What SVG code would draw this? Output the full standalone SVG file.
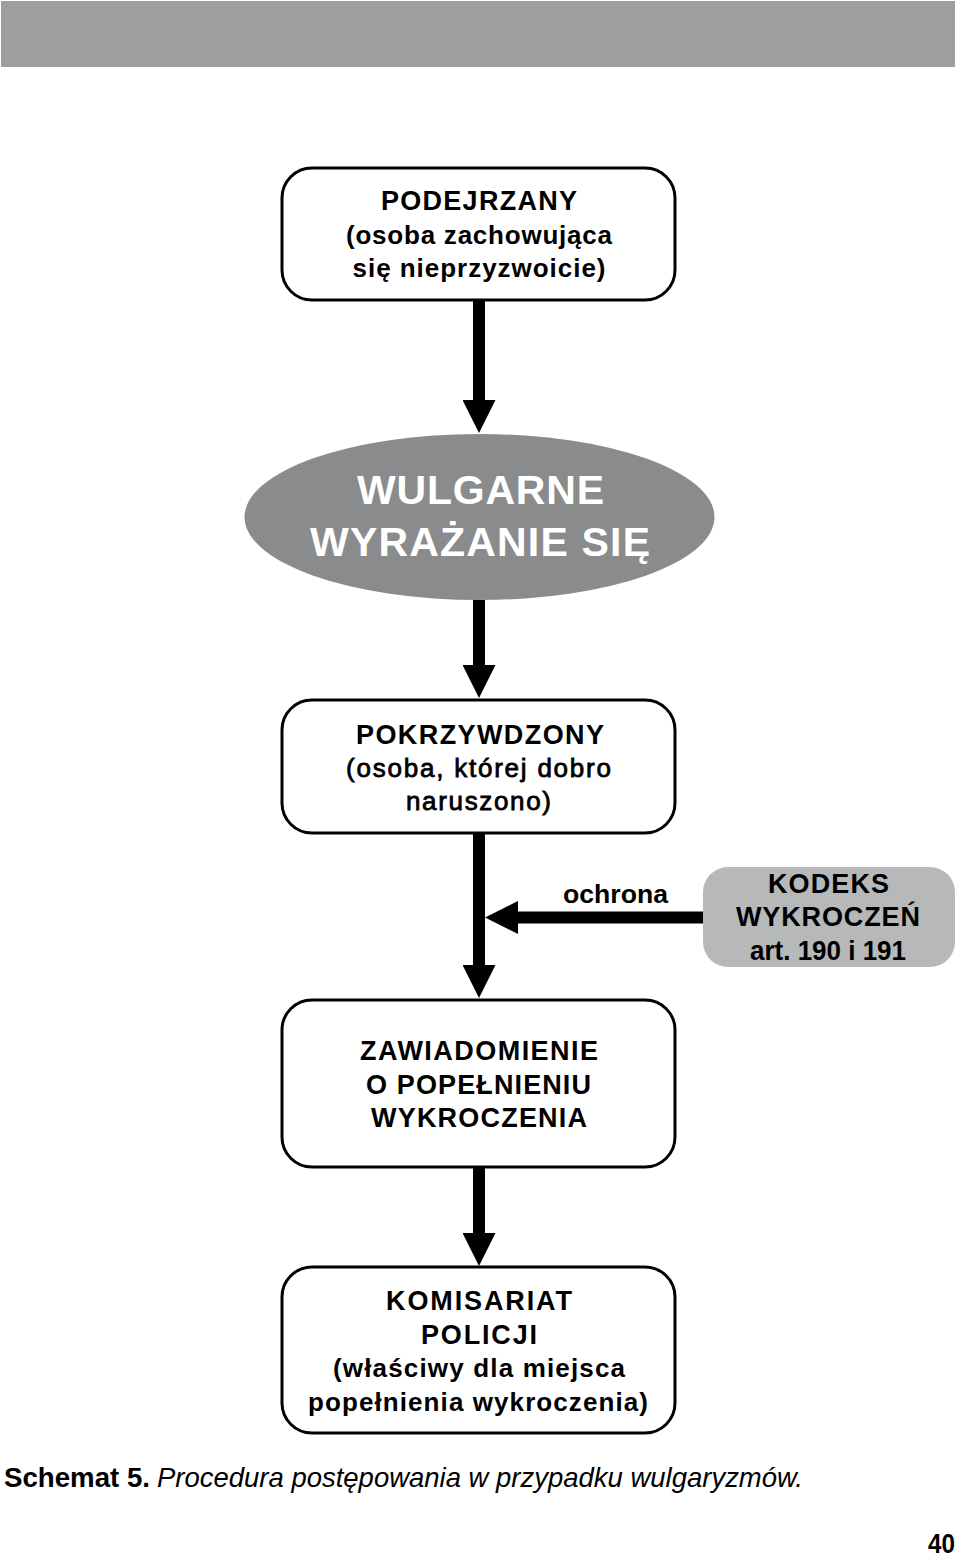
<svg xmlns="http://www.w3.org/2000/svg" width="960" height="1557" viewBox="0 0 960 1557">
<style>
.box{fill:#fff;stroke:#000;stroke-width:3}
.t{font-family:"Liberation Sans",Arial,sans-serif;font-weight:bold;fill:#000;text-anchor:middle}
.h{font-size:27px}
.s{font-size:26px}
.m{font-weight:normal;stroke:#000;stroke-width:0.8}
.w{fill:#fff;font-size:41px}
.con{stroke:#000;stroke-width:12;fill:none;marker-end:url(#ah)}
</style>
<defs>
<marker id="ah" viewBox="0 0 33 33" refX="0" refY="16.5" markerWidth="33" markerHeight="33" markerUnits="userSpaceOnUse" orient="auto">
<path d="M0,0 L33,16.5 L0,33 z" fill="#000"/>
</marker>
</defs>
<rect x="0" y="0" width="960" height="1557" fill="#fff"/>
<rect id="topbar" x="1" y="1" width="954" height="66" fill="#9d9ea0"/>

<g id="connectors">
<path class="con" d="M479,300 V400"/>
<path class="con" d="M479,600 V665"/>
<path class="con" d="M479,833 V965"/>
<path class="con" d="M479,1167 V1233"/>
<path class="con" d="M704,917.5 H518"/>
<text class="t s" x="615.5" y="903" textLength="105" lengthAdjust="spacingAndGlyphs">ochrona</text>
</g>

<g id="podejrzany">
<rect class="box" x="282" y="168" width="393" height="132" rx="30"/>
<text class="t h" x="479" y="210" textLength="196">PODEJRZANY</text>
<text class="t s" x="479" y="244" textLength="266">(osoba zachowująca</text>
<text class="t s" x="479" y="277" textLength="253">się nieprzyzwoicie)</text>
</g>

<g id="wulgarne">
<ellipse cx="479.5" cy="517" rx="235" ry="83" fill="#8a8b8d"/>
<text class="t w" x="480.5" y="504" textLength="247">WULGARNE</text>
<text class="t w" x="480" y="556" textLength="340">WYRAŻANIE SIĘ</text>
</g>

<g id="pokrzywdzony">
<rect class="box" x="282" y="700" width="393" height="133" rx="30"/>
<text class="t h" x="480" y="744" textLength="248">POKRZYWDZONY</text>
<text class="t s m" x="478.5" y="777" textLength="265">(osoba, której dobro</text>
<text class="t s m" x="478.5" y="810" textLength="145">naruszono)</text>
</g>

<g id="kodeks">
<rect x="703" y="867" width="252" height="100" rx="25" fill="#b7b8ba"/>
<text class="t h" x="828.5" y="893" textLength="121">KODEKS</text>
<text class="t h" x="828" y="926" textLength="184">WYKROCZEŃ</text>
<text class="t h" x="828" y="960" textLength="156" lengthAdjust="spacingAndGlyphs">art. 190 i 191</text>
</g>

<g id="zawiadomienie">
<rect class="box" x="282" y="1000" width="393" height="167" rx="30"/>
<text class="t h" x="479" y="1060" textLength="238">ZAWIADOMIENIE</text>
<text class="t h" x="478.5" y="1094" textLength="225">O POPEŁNIENIU</text>
<text class="t h" x="479" y="1127" textLength="216">WYKROCZENIA</text>
</g>

<g id="komisariat">
<rect class="box" x="282" y="1267" width="393" height="166" rx="30"/>
<text class="t h" x="479" y="1310" textLength="186">KOMISARIAT</text>
<text class="t h" x="479" y="1344" textLength="116">POLICJI</text>
<text class="t s" x="479" y="1377" textLength="292">(właściwy dla miejsca</text>
<text class="t s" x="478" y="1411" textLength="340">popełnienia wykroczenia)</text>
</g>

<g id="caption">
<text x="4" y="1487" font-family="'Liberation Sans',Arial,sans-serif" font-size="28" font-weight="bold" textLength="146" lengthAdjust="spacingAndGlyphs">Schemat 5.</text>
<text x="157" y="1487" font-family="'Liberation Sans',Arial,sans-serif" font-size="28" font-style="italic" textLength="646" lengthAdjust="spacingAndGlyphs">Procedura postępowania w przypadku wulgaryzmów.</text>
<text x="928" y="1553" font-family="'Liberation Sans',Arial,sans-serif" font-size="28" font-weight="bold" textLength="27" lengthAdjust="spacingAndGlyphs">40</text>
</g>
</svg>
